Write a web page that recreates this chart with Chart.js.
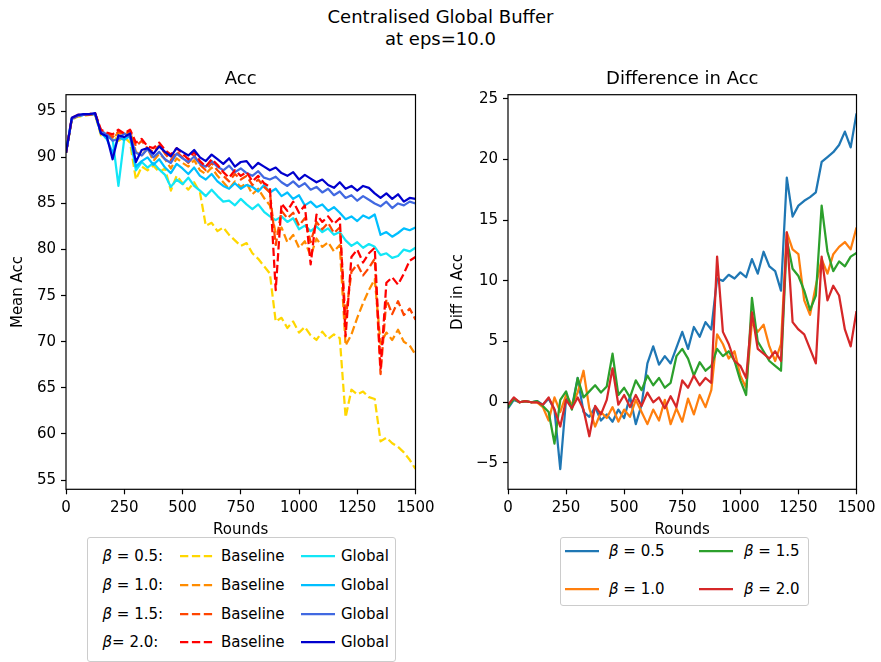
<!DOCTYPE html>
<html>
<head>
<meta charset="utf-8">
<script src="https://cdn.jsdelivr.net/npm/chart.js@4.4.0/dist/chart.umd.min.js"></script>
<style>
body { margin: 0; width: 881px; height: 662px; background: #fff; font-family: 'DejaVu Sans'; position: relative; overflow: hidden; }
#suptitle { position: absolute; left: 0; top: 6px; width: 881px; text-align: center; font-size: 18px; line-height: 22px; color: #000; }
#accChart { position: absolute; left: 0; top: 56px; }
#diffChart { position: absolute; left: 440px; top: 56px; }
.legend { position: absolute; border: 1px solid #ccc; border-radius: 3px; background: #fff; font-size: 15px; color: #000; }
.item { position: absolute; height: 20px; line-height: 20px; white-space: nowrap; }
</style>
</head>
<body>
<div id="suptitle">Centralised Global Buffer<br>at eps=10.0</div>
<canvas id="accChart" width="440" height="490"></canvas>
<canvas id="diffChart" width="441" height="490"></canvas>
<div class="legend" id="accLegend" style="left:87px; top:537px; width:307px; height:123px;"></div>
<div class="legend" id="diffLegend" style="left:560px; top:537px; width:247px; height:67px;"></div>

<script>
// rounds (x values), every 25 rounds
const rounds = [0, 25, 50, 75, 100, 125, 150, 175, 200, 225, 250, 275, 300, 325, 350, 375, 400, 425, 450, 475,
    500, 525, 550, 575, 600, 625, 650, 675, 700, 725, 750, 775, 800, 825, 850, 875, 900, 925, 950, 975,
    1000, 1025, 1050, 1075, 1100, 1125, 1150, 1175, 1200, 1225, 1250, 1275, 1300, 1325, 1350, 1375, 1400, 1425, 1450, 1475, 1500];

const betas = ['0.5', '1.0', '1.5', '2.0'];

// mean acc, baseline
const baseline05 = [90.5, 94.1, 94.4, 94.5, 94.6, 94.6,  92.4, 92.1, 92.4, 91.8, 92.2, 91.6,  87.6, 89.0, 88.6, 89.1, 88.4, 88.8,
    86.4, 88.0, 87.2, 86.5, 87.3, 86.2,  82.6, 82.9, 82.0, 82.4, 81.6, 81.0,  80.4, 80.7, 79.6, 79.0, 78.2, 77.4,
    72.2, 72.6, 71.5, 72.2, 71.0, 71.6,  70.7, 70.2, 71.1, 70.3, 70.8, 70.4,  61.8, 64.8, 64.3, 64.6, 64.0, 63.8,
    59.2, 59.6, 59.0, 58.6, 58.0, 57.2,  56.2];
const baseline10 = [90.5, 94.2, 94.5, 94.6, 94.6, 94.7,  92.8, 92.6, 92.0, 92.7, 92.4, 92.9,  90.6, 90.2, 91.0, 89.6, 90.4, 89.8,
    88.8, 89.9, 89.4, 89.0, 89.7, 88.6,  88.2, 88.9, 88.0, 87.3, 86.6, 87.4,  86.8, 87.2, 86.0, 86.6, 85.6, 84.8,
    81.8, 82.4, 80.8, 81.6, 80.2, 80.9,  79.3, 81.2, 80.3, 80.8, 79.8, 80.5,  69.6, 70.8, 72.6, 74.2, 75.6, 76.8,
    69.8, 71.0, 70.2, 71.3, 70.0, 69.6,  68.6];
const baseline15 = [90.5, 94.2, 94.5, 94.6, 94.6, 94.7,  92.9, 92.6, 92.2, 92.8, 92.5, 92.9,  91.2, 91.8, 91.0, 90.6, 91.3, 90.4,
    89.7, 90.6, 90.0, 89.4, 90.2, 89.2,  88.6, 89.4, 88.6, 88.0, 87.4, 88.2,  87.6, 88.0, 87.0, 87.6, 86.8, 86.2,
    80.5, 84.2, 83.4, 84.0, 82.6, 83.4,  80.8, 83.0, 82.2, 82.9, 81.8, 82.4,  72.5, 77.6, 78.4, 77.2, 78.0, 79.0,
    66.5, 74.6, 73.0, 74.4, 72.9, 73.6,  72.4];
const baseline20 = [90.5, 94.3, 94.6, 94.7, 94.7, 94.8,  93.0, 92.7, 92.5, 93.0, 92.6, 93.0,  91.6, 92.0, 91.2, 91.0, 91.6, 90.8,
    90.3, 91.0, 90.4, 89.8, 90.6, 89.6,  89.0, 89.8, 89.2, 88.4, 87.8, 88.6,  88.0, 88.4, 87.4, 88.0, 87.2, 86.8,
    75.6, 85.0, 84.2, 85.2, 84.0, 84.8,  78.4, 83.8, 83.0, 83.6, 82.8, 83.4,  70.6, 79.2, 80.0, 78.6, 79.6, 80.2,
    67.0, 76.4, 77.0, 76.2, 77.4, 78.8,  79.2];

// mean acc, global buffer
const global05 = [90.5, 94.2, 94.5, 94.6, 94.7, 94.7,  92.6, 92.2, 92.0, 86.9, 92.0, 92.3,  88.6, 89.5, 88.9, 89.4, 88.7, 88.1,
    86.8, 87.6, 87.1, 87.8, 86.9, 86.4,  85.8, 86.5, 85.8, 85.2, 85.3, 84.8,  85.5, 84.9, 84.4, 84.9, 84.1, 83.6,
    83.2, 83.6, 83.0, 83.4, 82.2, 82.6,  82.0, 82.5, 81.9, 82.3, 81.6, 81.9,  81.0, 80.4, 80.8, 80.2, 80.6, 80.3,
    79.4, 79.6, 79.1, 79.3, 80.0, 79.8,  80.2];
const global10 = [90.5, 94.2, 94.5, 94.6, 94.7, 94.7,  92.7, 92.0, 90.5, 92.2, 91.9, 92.4,  89.0, 89.6, 90.0, 89.2, 89.8, 88.9,
    88.3, 89.3, 88.8, 88.2, 88.9, 88.0,  87.6, 88.2, 87.4, 86.9, 86.6, 87.2,  86.6, 87.0, 86.8, 86.3, 87.0, 86.2,
    86.6, 85.8, 86.2, 85.5, 85.9, 84.8,  85.2, 84.6, 84.9, 84.2, 84.6, 84.0,  83.3, 83.6, 83.1, 83.7, 83.4, 83.8,
    81.6, 81.9, 81.4, 81.8, 82.3, 82.1,  82.4];
const global15 = [90.5, 94.2, 94.5, 94.6, 94.7, 94.7,  92.8, 92.5, 91.8, 92.0, 92.6, 92.2,  90.5, 90.2, 90.9, 90.0, 90.6, 89.8,
    89.4, 90.4, 89.9, 89.5, 90.1, 89.3,  89.0, 89.6, 89.0, 88.6, 89.1, 88.4,  88.8, 88.3, 88.0, 88.5, 87.8, 87.6,
    87.9, 87.3, 86.9, 87.4, 86.8, 87.2,  86.5, 86.8, 86.2, 86.6, 85.9, 86.3,  85.6, 85.9, 85.3, 85.8, 85.4, 85.0,
    84.7, 85.2, 84.5, 85.0, 84.8, 85.2,  85.0];
const global20 = [90.5, 94.3, 94.6, 94.7, 94.7, 94.8,  92.6, 92.3, 89.8, 92.4, 92.2, 92.6,  89.5, 90.8, 91.0, 90.4, 91.2, 90.6,
    90.1, 91.0, 90.6, 90.2, 90.8, 90.0,  89.6, 90.3, 89.8, 89.3, 89.9, 89.0,  89.5, 89.6, 88.8, 89.4, 89.0, 88.6,
    88.9, 88.3, 88.0, 88.4, 87.6, 88.1,  87.7, 87.3, 87.6, 87.0, 86.7, 87.3,  86.6, 86.9, 86.4, 86.9, 86.7, 86.1,
    85.6, 86.1, 85.5, 86.0, 85.2, 85.6,  85.5];

// difference in acc (global - baseline)
const diff05 = [-0.5, 0.2, 0.0, 0.1, 0.0, 0.1,  -0.2, 0.3, -0.6, -5.5, 0.3, -0.4,  2.0, -0.8, -1.2, -0.4, -1.5, -1.0,
    -1.6, -0.6, -1.3, 0.5, -1.8, -0.2,  3.2, 4.6, 3.1, 3.8, 3.2, 4.5,  5.8, 4.4, 6.2, 5.4, 6.6, 6.0,
    10.2, 10.0, 10.5, 10.2, 10.7, 10.3,  11.8, 10.6, 12.4, 11.2, 10.8, 9.2,  18.5, 15.3, 16.2, 16.6, 16.9, 17.3,
    19.8, 20.2, 20.6, 21.2, 22.3, 21.0,  23.8];
const diff10 = [-0.3, 0.3, 0.0, 0.1, 0.0, 0.0,  -0.4, -1.5, 0.4, -0.8, 0.6, -0.2,  0.8, 2.6, -0.5, -2.0, -0.8, -1.3,
    -0.4, -1.6, -0.6, -1.2, 0.2, -0.8,  -1.8, -0.6, -1.5, 0.2, -1.8, -0.5,  -1.6, 0.3, -1.0, 0.6, -0.4, 1.0,
    5.6, 4.8, 3.6, 4.2, 2.2, 1.2,  6.6, 5.8, 6.4, 4.6, 3.4, 4.8,  14.0, 12.6, 12.2, 8.4, 7.2, 9.6,
    11.8, 10.6, 12.2, 12.8, 13.2, 12.6,  14.4];
const diff15 = [-0.4, 0.3, 0.0, 0.1, 0.0, 0.1,  -0.3, -0.8, -3.4, 0.2, 0.9, -0.6,  2.0, 0.4, 0.9, 1.4, 0.8, 1.3,
    4.0, 0.6, 1.2, 0.4, 1.8, 1.0,  2.2, 1.4, 2.0, 1.2, 1.6, 3.8,  4.4, 3.6, 2.2, 3.3, 2.6, 3.0,
    4.4, 3.8, 4.2, 3.4, 1.8, 0.6,  8.6, 5.0, 4.2, 3.4, 3.0, 2.6,  13.4, 11.0, 10.4, 9.2, 7.6, 8.8,
    16.2, 12.4, 10.8, 11.6, 11.2, 12.0,  12.3];
const diff20 = [-0.2, 0.4, 0.0, 0.1, 0.0, 0.0,  -0.2, 0.4, -0.6, -2.0, 0.2, -0.5,  0.4, -0.6, -2.8, -0.3, -1.0, 0.2,
    2.8, -0.2, 0.6, -0.4, 0.6, -0.3,  0.8, 0.0, 0.4, -0.5, 0.5, -0.4,  1.8, 1.2, 2.2, 1.4, 2.0, 1.6,
    12.0, 5.8, 4.8, 3.4, 3.0, 2.0,  7.4, 4.4, 4.0, 3.6, 4.2, 3.4,  14.0, 6.6, 6.0, 5.6, 4.4, 3.2,
    12.0, 8.4, 9.6, 8.8, 6.0, 4.6,  7.5];

const xTicks = [0, 250, 500, 750, 1000, 1250, 1500];
const accTicks = [55, 60, 65, 70, 75, 80, 85, 90, 95];
const diffTicks = [-5, 0, 5, 10, 15, 20, 25];

const baselineColors = ['#ffd700', '#ff8c00', '#ff4500', '#ff0000'];
const globalColors = ['#12e6f6', '#00bfff', '#4169e1', '#0000cd'];
const diffColors = ['#1f77b4', '#ff7f0e', '#2ca02c', '#d62728'];

Chart.defaults.font.family = 'DejaVu Sans';
Chart.defaults.color = '#000';
Chart.defaults.animation = false;

// box round the plot area, like matplotlib spines
const frame = {
    id: 'frame',
    afterDraw(chart) {
        const { ctx, chartArea } = chart;
        ctx.save();
        ctx.strokeStyle = '#000';
        ctx.lineWidth = 1.2;
        ctx.strokeRect(chartArea.left, chartArea.top, chartArea.right - chartArea.left, chartArea.bottom - chartArea.top);
        ctx.restore();
    }
};

function pairs(values) {
    return rounds.map((r, i) => ({ x: r, y: values[i] }));
}

function line(label, values, color, dashed, order) {
    return {
        label: label,
        data: pairs(values),
        borderColor: color,
        backgroundColor: color,
        borderWidth: 2.25,
        borderDash: dashed ? [8.3, 3.6] : [],
        borderJoinStyle: 'round',
        pointRadius: 0,
        tension: 0,
        fill: false,
        order: order
    };
}

function options(titleText, yMin, yMax, yTicks, yTitle, yWidth) {
    return {
        responsive: false,
        layout: { padding: { left: 0, right: 24.5, top: 0, bottom: 0 } },
        plugins: {
            legend: { display: false },
            tooltip: { enabled: false },
            title: {
                display: true,
                text: titleText,
                fullSize: false,
                color: '#000',
                font: { size: 18, weight: 'normal' },
                padding: { top: 12.6, bottom: 4.5 }
            }
        },
        scales: {
            x: {
                type: 'linear',
                min: 0,
                max: 1500,
                afterBuildTicks: s => { s.ticks = xTicks.map(v => ({ value: v })); },
                afterFit: s => { s.height = 56.7; },
                grid: { drawOnChartArea: false, tickLength: 5, tickColor: '#000', tickWidth: 1.2 },
                border: { display: false },
                ticks: { padding: 5, color: '#000', font: { size: 15 }, maxRotation: 0, autoSkip: false, callback: v => String(v) },
                title: { display: true, text: 'Rounds', color: '#000', font: { size: 15 }, padding: { top: 0, bottom: 7 } }
            },
            y: {
                min: yMin,
                max: yMax,
                afterBuildTicks: s => { s.ticks = yTicks.map(v => ({ value: v })); },
                afterFit: s => { s.width = yWidth; },
                grid: { drawOnChartArea: false, tickLength: 5, tickColor: '#000', tickWidth: 1.2 },
                border: { display: false },
                ticks: { padding: 5, color: '#000', font: { size: 15 }, autoSkip: false, callback: v => String(v).replace('-', '\u2212') },
                title: { display: true, text: yTitle, color: '#000', font: { size: 15 }, padding: { top: 9, bottom: 0 } }
            }
        }
    };
}

// left: Acc
const accSets = [];
betas.forEach((b, i) => {
    accSets.push(line('Baseline ' + b, [baseline05, baseline10, baseline15, baseline20][i], baselineColors[i], true, 20 - 2 * i));
    accSets.push(line('Global ' + b, [global05, global10, global15, global20][i], globalColors[i], false, 19 - 2 * i));
});

new Chart(document.getElementById('accChart').getContext('2d'), {
    type: 'line',
    data: { datasets: accSets },
    options: options('Acc', 54.0, 96.8, accTicks, 'Mean Acc', 66),
    plugins: [frame]
});

// right: Difference in Acc
const diffSeries = [diff05, diff10, diff15, diff20];
const diffSets = betas.map((b, i) => line('\u03b2 = ' + b, diffSeries[i], diffColors[i], false, 10 - i));

new Chart(document.getElementById('diffChart').getContext('2d'), {
    type: 'line',
    data: { datasets: diffSets },
    options: options('Difference in Acc', -7.17, 25.34, diffTicks, 'Diff in Acc', 68),
    plugins: [frame]
});

// legends
function handle(color, dashed) {
    return '<svg width="34" height="20" style="display:block"><line x1="0" y1="10" x2="34" y2="10" stroke="' + color +
        '" stroke-width="2.25"' + (dashed ? ' stroke-dasharray="8.3 3.6"' : '') + '/></svg>';
}

function item(left, center, html) {
    return '<div class="item" style="left:' + left + 'px; top:' + (center - 10) + 'px;">' + html + '</div>';
}

const accRows = [18, 47, 76, 104];
let accHtml = '';
betas.forEach((b, i) => {
    const eq = i === 3 ? '= ' : ' = ';
    accHtml += item(14.5, accRows[i], '<i>\u03b2</i>' + eq + b + ':');
    accHtml += item(92, accRows[i], handle(baselineColors[i], true));
    accHtml += item(133, accRows[i], 'Baseline');
    accHtml += item(213, accRows[i], handle(globalColors[i], false));
    accHtml += item(253, accRows[i], 'Global');
});
document.getElementById('accLegend').innerHTML = accHtml;

const diffRows = [13, 51];
const diffCols = [[3.5, 48], [138, 183]];
let diffHtml = '';
betas.forEach((b, i) => {
    const col = diffCols[Math.floor(i / 2)];
    const row = diffRows[i % 2];
    diffHtml += item(col[0], row, handle(diffColors[i], false));
    diffHtml += item(col[1], row, '<i>\u03b2</i> = ' + b);
});
document.getElementById('diffLegend').innerHTML = diffHtml;
</script>
</body>
</html>
